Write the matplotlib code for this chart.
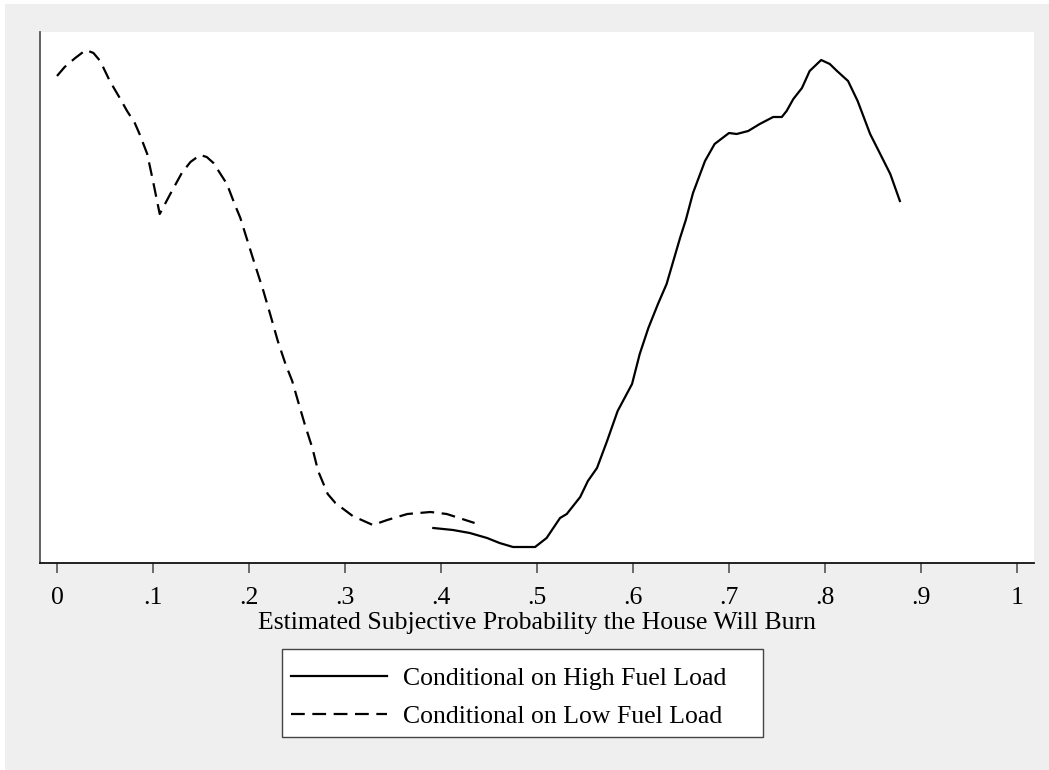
import matplotlib
matplotlib.use('Agg')
import matplotlib.pyplot as plt
from matplotlib.patches import Rectangle
from matplotlib.lines import Line2D

plt.rcParams['font.family'] = ['Liberation Serif', 'DejaVu Serif']

# kernel density estimates (y has no scale in the original)
low_x = [0.000, 0.008, 0.019, 0.030, 0.038, 0.045, 0.055, 0.066, 0.073, 0.081,
         0.086, 0.094, 0.100, 0.107, 0.118, 0.130, 0.139, 0.149, 0.156, 0.163,
         0.177, 0.185, 0.191, 0.204, 0.215, 0.222, 0.230, 0.238, 0.245, 0.251,
         0.258, 0.266, 0.272, 0.282, 0.290, 0.308, 0.329, 0.344, 0.365, 0.389,
         0.406, 0.435]
low_y = [1.948, 1.984, 2.020, 2.052, 2.040, 2.008, 1.928, 1.856, 1.808, 1.760,
         1.716, 1.636, 1.528, 1.396, 1.476, 1.560, 1.604, 1.632, 1.624, 1.600,
         1.516, 1.436, 1.380, 1.220, 1.088, 0.996, 0.888, 0.796, 0.728, 0.648,
         0.556, 0.460, 0.368, 0.276, 0.240, 0.188, 0.152, 0.172, 0.196, 0.204,
         0.196, 0.160]

high_x = [0.392, 0.4125, 0.430, 0.448, 0.461, 0.475, 0.498, 0.510, 0.524, 0.531,
          0.545, 0.553, 0.5625, 0.573, 0.584, 0.599, 0.607, 0.616, 0.626, 0.635,
          0.642, 0.649, 0.655, 0.6625, 0.675, 0.685, 0.700, 0.708, 0.720, 0.732,
          0.746, 0.755, 0.760, 0.767, 0.776, 0.784, 0.796, 0.805, 0.8125, 0.824,
          0.834, 0.847, 0.857, 0.868, 0.878]
high_y = [0.140, 0.132, 0.120, 0.100, 0.080, 0.064, 0.064, 0.100, 0.180, 0.196,
          0.264, 0.328, 0.380, 0.488, 0.608, 0.716, 0.836, 0.940, 1.036, 1.116,
          1.208, 1.300, 1.372, 1.480, 1.608, 1.676, 1.720, 1.716, 1.728, 1.756,
          1.784, 1.784, 1.808, 1.856, 1.900, 1.968, 2.012, 1.996, 1.968, 1.928,
          1.848, 1.716, 1.640, 1.556, 1.448]

ticks = [0, 0.1, 0.2, 0.3, 0.4, 0.5, 0.6, 0.7, 0.8, 0.9, 1]
tick_labels = ['0', '.1', '.2', '.3', '.4', '.5', '.6', '.7', '.8', '.9', '1']
labels = ['Conditional on High Fuel Load', 'Conditional on Low Fuel Load']

W, H = 1049, 770
FS = 18.5
fig = plt.figure(figsize=(W / 100, H / 100), dpi=100, facecolor='white')
fig.patches.append(Rectangle((5 / W, 0), 1, 1 - 4 / H, transform=fig.transFigure,
                             facecolor='#efefef', edgecolor='none', zorder=-5))

ax = fig.add_axes([40 / W, (H - 563) / H, (1034 - 40) / W, (563 - 32) / H])
ax.set_facecolor('white')

dash = (6.2, 3.4)
ax.plot(high_x, high_y, color='black', lw=1.6, solid_joinstyle='round')
ax.plot(low_x, low_y, color='black', lw=1.6, dashes=dash,
        dash_joinstyle='round')

ax.set_xlim(-0.0177, 1.0177)
ax.set_ylim(0, 2.124)
ax.set_xticks(ticks)
ax.set_xticklabels(tick_labels, fontsize=FS)
ax.set_yticks([])
ax.tick_params(axis='x', direction='out', length=7.2, width=1.2, color='#555555',
               pad=10)
ax.spines['top'].set_visible(False)
ax.spines['right'].set_visible(False)
ax.spines['left'].set_color('#555555')
ax.spines['left'].set_linewidth(1.3)
ax.spines['bottom'].set_color('#111111')
ax.spines['bottom'].set_linewidth(1.3)
ax.set_xlabel('Estimated Subjective Probability the House Will Burn', fontsize=FS,
              labelpad=2)

# legend box, drawn like Stata's
fig.patches.append(Rectangle((282 / W, (H - 737) / H), (763 - 282) / W, 88 / H,
                             transform=fig.transFigure, facecolor='white',
                             edgecolor='#444444', lw=1.0, zorder=1))
handles = [Line2D([], [], color='black', lw=1.6),
           Line2D([], [], color='black', lw=1.6, dashes=dash)]
fig.legend(handles, labels, loc='upper left',
           bbox_to_anchor=(286 / W, (H - 662) / H), frameon=False, fontsize=FS,
           handlelength=3.74, handletextpad=0.62, labelspacing=0.57,
           borderpad=0.2, borderaxespad=0)

fig.savefig('out.png', dpi=100, facecolor=fig.get_facecolor())
